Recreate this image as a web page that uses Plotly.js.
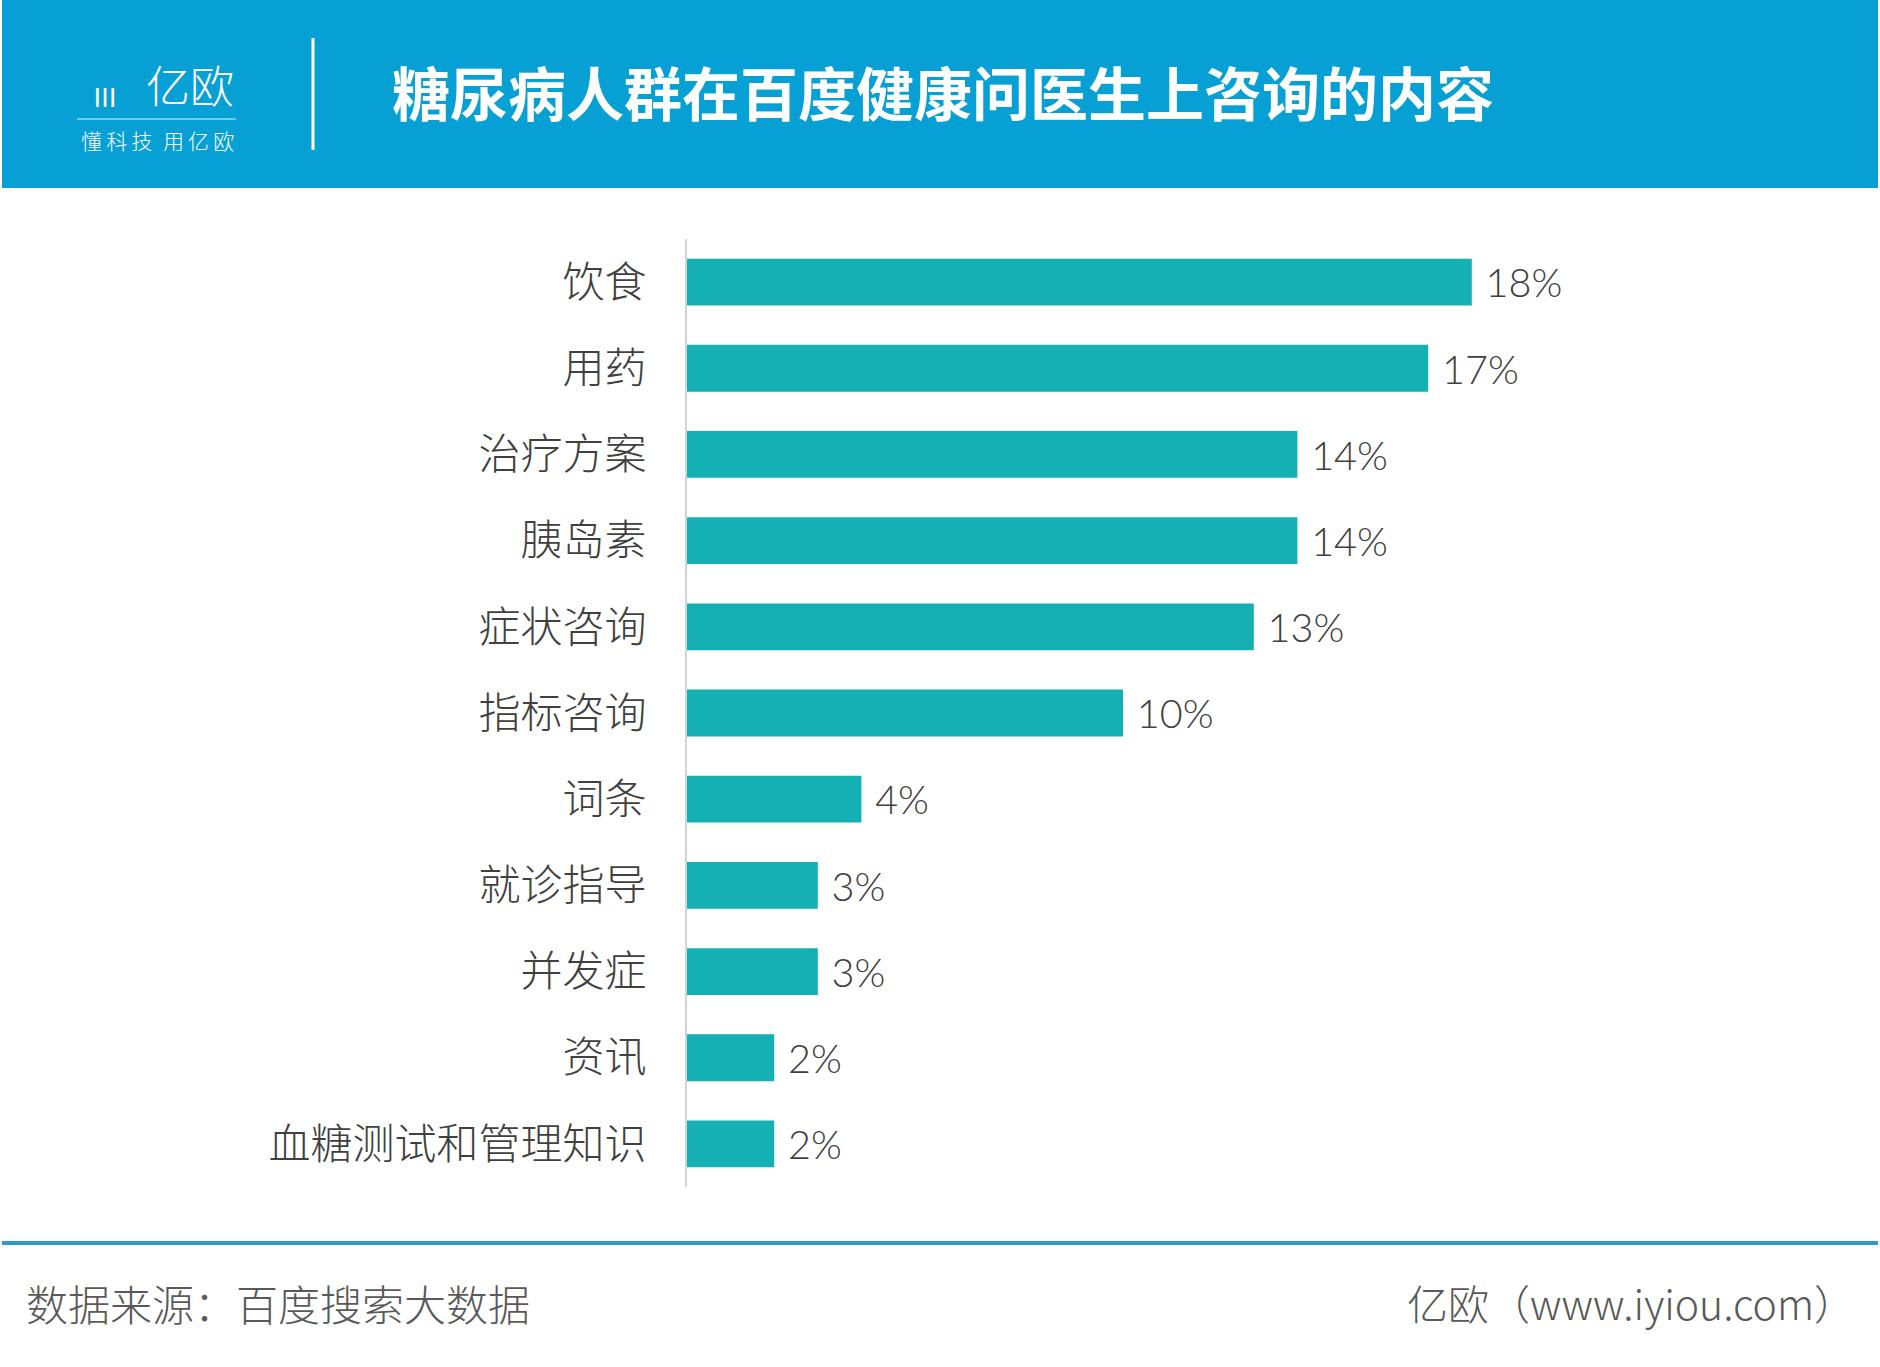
<!DOCTYPE html>
<html>
<head>
<meta charset="utf-8">
<script src="https://cdn.plot.ly/plotly-3.0.1.min.js"></script>
<style>
html,body{margin:0;padding:0;background:#fff;}
#chart{width:1880px;height:1367px;}
</style>
</head>
<body>
<div id="chart"></div>
<script>
// ---- data ----
var categories = ["饮食","用药","治疗方案","胰岛素","症状咨询","指标咨询","词条","就诊指导","并发症","资讯","血糖测试和管理知识"];
var values = [18,17,14,14,13,10,4,3,3,2,2];
var titleText = "糖尿病人群在百度健康问医生上咨询的内容";
var sourceText = "数据来源：百度搜索大数据";
var brandText = "亿欧（www.iyiou.com）";
var logoText = "亿欧";
var sloganText = "懂\u2009科\u2009技\u2002用\u2009亿\u2009欧";

// ---- layout geometry (pixels) ----
var W = 1880, H = 1367;
var L = 687, T = 239, PW = 1000, PH = 948;
var pxPerUnit = 43.6;
function px(x){ return (x - L) / PW; }
function py(y){ return (T + PH - y) / PH; }

var cjk = '"Noto Sans CJK SC", "Noto Sans", sans-serif';
var thin = 'Lato, "Open Sans", "Noto Sans", sans-serif';

var trace = {
  type: 'bar',
  orientation: 'h',
  y: categories,
  x: values,
  marker: {color: '#14B0B3', line: {width: 0}},
  text: values.map(function(v){ return '\u00a0' + v + '%'; }),
  textposition: 'outside',
  textfont: {family: thin, size: 44, color: '#404040', weight: 300},
  cliponaxis: false,
  hoverinfo: 'none'
};

var layout = {
  width: W, height: H,
  margin: {l: L, t: T, r: W - L - PW, b: H - T - PH, pad: 0},
  paper_bgcolor: '#ffffff',
  plot_bgcolor: '#ffffff',
  showlegend: false,
  bargap: 0.457,
  xaxis: {range: [0, PW / pxPerUnit], visible: false, fixedrange: true},
  yaxis: {
    type: 'category',
    autorange: 'reversed',
    showline: true, linecolor: '#d4d4d4', linewidth: 2,
    showgrid: false, zeroline: false,
    ticks: 'outside', ticklen: 30, tickcolor: 'rgba(0,0,0,0)',
    tickfont: {family: cjk, size: 42, color: '#404040', weight: 300}
  },
  shapes: [
    {type: 'rect', xref: 'paper', yref: 'paper', x0: px(2), x1: px(1878), y0: py(0), y1: py(188),
     fillcolor: '#07A0D5', line: {width: 0}, layer: 'below'},
    {type: 'line', xref: 'paper', yref: 'paper', x0: px(313), x1: px(313), y0: py(38), y1: py(150),
     line: {color: '#ffffff', width: 3}},
    {type: 'line', xref: 'paper', yref: 'paper', x0: px(77), x1: px(236), y0: py(119), y1: py(119),
     line: {color: '#6FCBEB', width: 2}},
    {type: 'line', xref: 'paper', yref: 'paper', x0: px(2), x1: px(1878), y0: py(1243), y1: py(1243),
     line: {color: '#2E9AC8', width: 4}}
  ],
  annotations: [
    {xref: 'paper', yref: 'paper', x: px(390), y: py(91), xanchor: 'left', yanchor: 'middle',
     text: '<b>' + titleText + '</b>', showarrow: false,
     font: {family: cjk, size: 58, color: '#ffffff'}},
    {xref: 'paper', yref: 'paper', x: px(236), y: py(84), xanchor: 'right', yanchor: 'middle',
     text: logoText, showarrow: false,
     font: {family: cjk, size: 44, color: '#ffffff', weight: 300}},
    {xref: 'paper', yref: 'paper', x: px(105), y: py(95), xanchor: 'center', yanchor: 'middle',
     text: '\u2162', showarrow: false,
     font: {family: cjk, size: 26, color: '#ffffff'}},
    {xref: 'paper', yref: 'paper', x: px(157), y: py(140), xanchor: 'center', yanchor: 'middle',
     text: sloganText, showarrow: false,
     font: {family: cjk, size: 21, color: '#ffffff', weight: 300}},
    {xref: 'paper', yref: 'paper', x: px(24), y: py(1302), xanchor: 'left', yanchor: 'middle',
     text: sourceText, showarrow: false,
     font: {family: cjk, size: 42, color: '#595959', weight: 300}},
    {xref: 'paper', yref: 'paper', x: px(1857), y: py(1302), xanchor: 'right', yanchor: 'middle',
     text: brandText, showarrow: false,
     font: {family: cjk, size: 41, color: '#595959', weight: 300}}
  ]
};

Plotly.newPlot('chart', [trace], layout, {displayModeBar: false, staticPlot: true});
</script>
</body>
</html>
